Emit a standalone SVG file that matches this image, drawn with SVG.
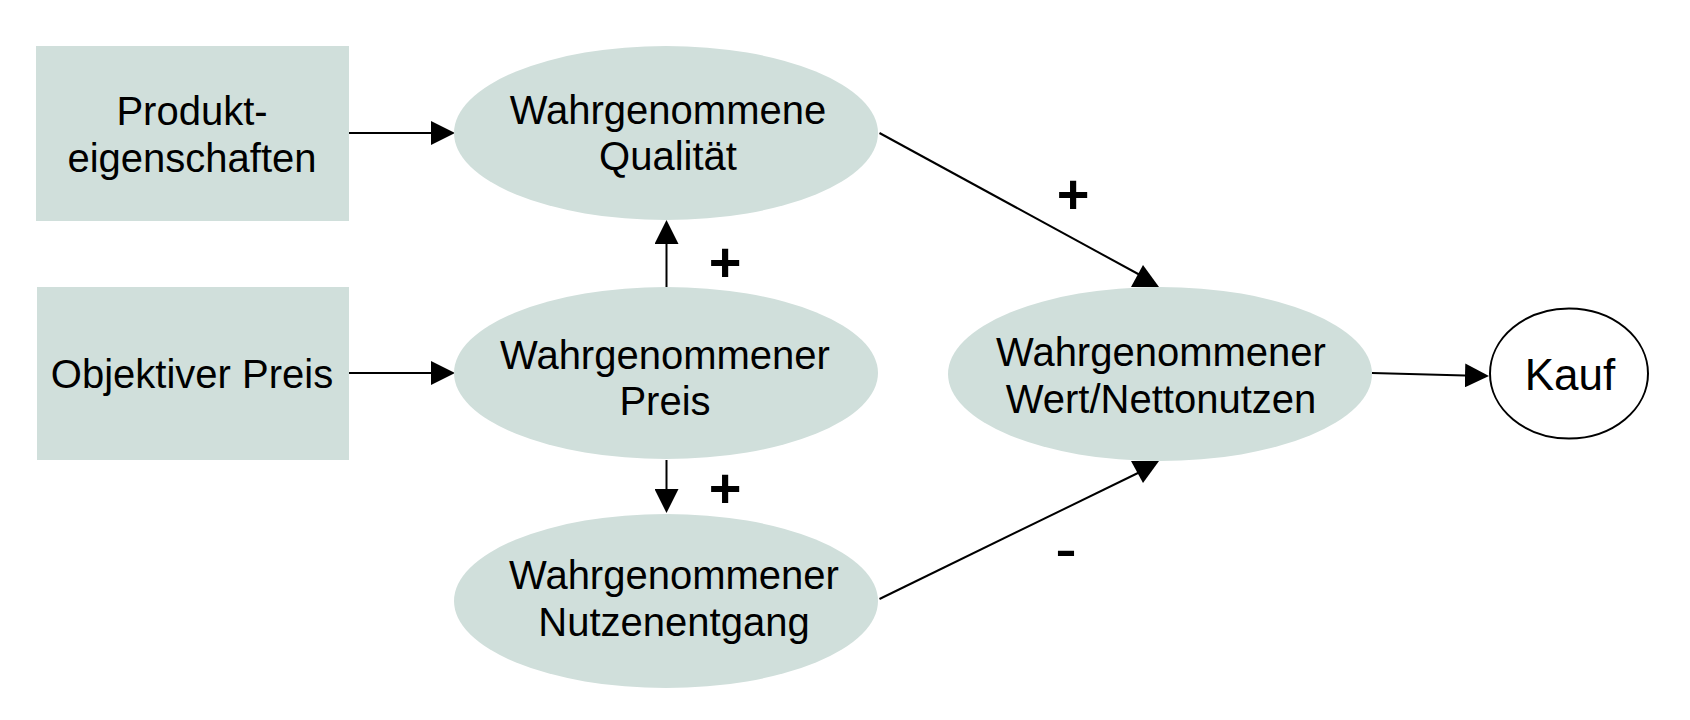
<svg xmlns="http://www.w3.org/2000/svg" width="1690" height="720" viewBox="0 0 1690 720">
<defs>
<style>
.box{fill:#d0dfdb;stroke:none}
.ell{fill:#d0dfdb;stroke:none}
.t{font-family:"Liberation Sans",Arial,sans-serif;font-size:40px;fill:#000;text-anchor:middle}
.sign{font-family:"Liberation Sans",Arial,sans-serif;font-weight:bold;font-size:56px;fill:#000;text-anchor:middle}
.minus{font-family:"Liberation Sans",Arial,sans-serif;font-size:66px;fill:#000;text-anchor:middle}
.ln{stroke:#000;stroke-width:2;fill:none}
.ah{fill:#000;stroke:none}
</style>
<marker id="arrow" markerUnits="userSpaceOnUse" markerWidth="24" markerHeight="24" refX="0" refY="12" orient="auto">
<path d="M0,0 L24,12 L0,24 z" fill="#000"/>
</marker>
</defs>
<rect width="1690" height="720" fill="#fff"/>
<g id="connectors">
<line class="ln" x1="348" y1="133" x2="431" y2="133" marker-end="url(#arrow)"/>
<line class="ln" x1="349" y1="373" x2="431" y2="373" marker-end="url(#arrow)"/>
<line class="ln" x1="666.5" y1="287" x2="666.5" y2="244" marker-end="url(#arrow)"/>
<line class="ln" x1="666.5" y1="460" x2="666.5" y2="489" marker-end="url(#arrow)"/>
<line class="ln" x1="1372" y1="373" x2="1465" y2="375.4" marker-end="url(#arrow)"/>
<line class="ln" x1="879.5" y1="133" x2="1140" y2="275"/>
<polygon class="ah" points="1143,265 1131,287 1159,287"/>
<line class="ln" x1="879.5" y1="599" x2="1140" y2="472"/>
<polygon class="ah" points="1131,461 1159,461 1143,483"/>
<text class="sign" x="725" y="281">+</text>
<text class="sign" x="725" y="507">+</text>
<text class="sign" x="1073" y="213">+</text>
<text class="minus" x="1066" y="571">-</text>
</g>
<g id="produkteigenschaften">
<rect class="box" x="36" y="46" width="313" height="175"/>
<text class="t" x="192" y="125">Produkt-</text>
<text class="t" x="192" y="172">eigenschaften</text>
</g>
<g id="objektiver-preis">
<rect class="box" x="37" y="287" width="312" height="173"/>
<text class="t" x="192" y="388">Objektiver Preis</text>
</g>
<g id="qualitaet">
<ellipse class="ell" cx="666" cy="133" rx="212" ry="87"/>
<text class="t" x="668" y="124">Wahrgenommene</text>
<text class="t" x="668" y="170">Qualität</text>
</g>
<g id="preis">
<ellipse class="ell" cx="666" cy="373" rx="212" ry="86"/>
<text class="t" x="665" y="369">Wahrgenommener</text>
<text class="t" x="665" y="415">Preis</text>
</g>
<g id="nutzenentgang">
<ellipse class="ell" cx="666" cy="601" rx="212" ry="87"/>
<text class="t" x="674" y="589">Wahrgenommener</text>
<text class="t" x="674" y="636">Nutzenentgang</text>
</g>
<g id="wert">
<ellipse class="ell" cx="1160" cy="374" rx="212" ry="87"/>
<text class="t" x="1161" y="366">Wahrgenommener</text>
<text class="t" x="1161" y="413">Wert/Nettonutzen</text>
</g>
<g id="kauf">
<ellipse cx="1569" cy="373.5" rx="79" ry="65" fill="#fff" stroke="#000" stroke-width="2"/>
<text class="t" x="1570" y="390" style="font-size:44px">Kauf</text>
</g>
</svg>
